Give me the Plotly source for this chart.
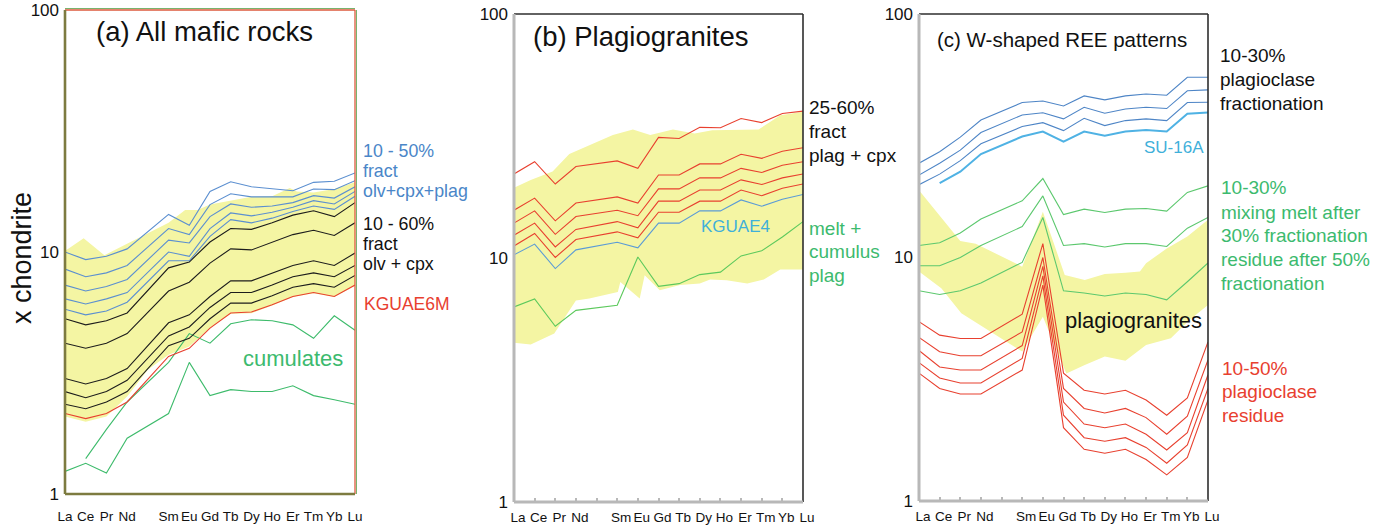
import plotly.graph_objects as go

# ---------------- categories ----------------
ree_axis = ["La", "Ce", "Pr", "Nd", "Pm", "Sm", "Eu", "Gd", "Tb", "Dy", "Ho", "Er", "Tm", "Yb", "Lu"]
tick_text = ["La", "Ce", "Pr", "Nd", "", "Sm", "Eu", "Gd", "Tb", "Dy", "Ho", "Er", "Tm", "Yb", "Lu"]
ree_data = ["La", "Ce", "Pr", "Nd", "Sm", "Eu", "Gd", "Tb", "Dy", "Ho", "Er", "Tm", "Yb", "Lu"]

# ---------------- panel (a): all mafic rocks ----------------
a_blue = [
    [10.0, 9.3, 9.6, 10.3, 14.3, 12.9, 17.8, 19.5, 18.6, 18.2, 17.9, 19.4, 19.6, 21.2],
    [8.5, 7.9, 8.2, 8.8, 12.5, 11.8, 15.7, 17.4, 16.9, 16.9, 16.9, 18.2, 18.1, 19.7],
    [7.3, 6.9, 7.2, 7.7, 11.2, 10.9, 14.0, 15.8, 15.3, 15.5, 16.0, 17.1, 16.7, 18.6],
    [6.4, 6.1, 6.4, 6.8, 10.0, 9.6, 12.5, 14.5, 14.1, 14.6, 15.3, 16.3, 15.8, 17.8],
    [5.8, 5.5, 5.7, 6.2, 9.2, 9.2, 11.6, 13.6, 13.2, 13.8, 14.7, 15.5, 15.0, 17.0],
]
a_black = [
    [5.3, 5.0, 5.2, 5.6, 8.6, 9.1, 11.0, 12.5, 12.4, 13.2, 14.2, 14.8, 14.0, 16.0],
    [4.2, 4.0, 4.2, 4.6, 6.9, 7.5, 9.0, 10.3, 10.2, 11.0, 11.8, 12.3, 11.7, 13.2],
    [3.0, 2.85, 3.0, 3.3, 5.1, 5.5, 6.55, 7.6, 7.6, 8.2, 8.8, 9.2, 8.8, 9.9],
    [2.65, 2.5, 2.65, 2.95, 4.5, 4.9, 5.9, 6.8, 6.8, 7.3, 7.9, 8.2, 7.9, 8.8],
    [2.35, 2.25, 2.4, 2.65, 4.1, 4.4, 5.3, 6.15, 6.15, 6.6, 7.15, 7.4, 7.15, 8.0],
]
a_kguae6m = [2.15, 2.05, 2.15, 2.4, 3.7, 4.0, 4.85, 5.6, 5.65, 6.05, 6.55, 6.8, 6.55, 7.3]
a_cumulates = [
    [None, 1.4, 1.85, 2.4, 3.5, 4.6, 4.2, 5.05, 5.25, 5.2, 5.0, 4.4, 5.45, 4.75],
    [1.24, 1.34, 1.22, 1.7, 2.15, 3.5, 2.55, 2.7, 2.65, 2.65, 2.8, 2.55, 2.45, 2.35],
]
band_a_top_x = [0, 0.9, 1.9, 3, 4, 5, 5.8, 6.4, 7, 8, 9, 10, 10.85, 11.2, 12, 13, 14]
band_a_top_y = [10.1, 11.4, 9.7, 10.8, 12.0, 13.2, 14.9, 14.9, 15.7, 16.3, 16.9, 17.0, 18.4, 17.8, 17.6, 18.2, 19.4]
band_a_bot_x = [0, 1, 2, 3, 4, 5, 6, 7, 8, 9, 10, 11, 12, 13, 14]
band_a_bot_y = [2.09, 1.99, 2.09, 2.53, 3.26, 3.76, 4.07, 4.85, 5.56, 5.59, 6.01, 6.51, 6.76, 6.51, 7.25]

# ---------------- panel (b): plagiogranites ----------------
b_red = [
    [22.1, 24.8, 20.1, 23.7, 25.0, 23.3, 31.2, 30.9, 34.3, 34.2, 37.3, 35.9, 39.1, 40.0],
    [15.7, 17.6, 14.2, 16.8, 17.8, 16.8, 21.9, 21.9, 24.3, 24.3, 26.6, 25.6, 27.4, 28.3],
    [13.9, 15.6, 12.5, 14.8, 15.7, 14.9, 19.2, 19.2, 21.3, 21.3, 23.3, 22.4, 24.0, 24.8],
    [12.4, 13.9, 11.1, 13.1, 14.1, 13.3, 17.1, 17.1, 19.0, 19.0, 20.9, 20.0, 21.3, 22.1],
    [11.2, 12.6, 10.05, 11.9, 12.8, 12.1, 15.4, 15.4, 17.1, 17.1, 19.0, 18.0, 19.3, 20.1],
]
b_kguae4 = [10.3, 11.4, 9.05, 10.8, 11.6, 11.0, 13.9, 13.9, 15.6, 15.6, 17.3, 16.3, 17.4, 18.2]
b_melt_cumulus = [6.3, 6.8, 5.25, 6.1, 6.4, 10.1, 7.65, 7.85, 8.55, 8.75, 10.2, 10.7, 12.2, 14.1]
band_b_top_x = [0, 0.81, 1.87, 2.68, 4.79, 5.76, 6.6, 7.7, 8.75, 9.6, 11.85, 12.9, 14]
band_b_top_y = [19.4, 20.9, 22.6, 26.7, 31.9, 33.6, 31.9, 33.6, 32.4, 33.4, 33.6, 38.5, 39.8]
band_b_bot_x = [0, 0.81, 1.95, 3.0, 3.65, 5.03, 5.15, 6.09, 6.33, 7.06, 8.04, 9.0, 9.5, 10.3, 11.3, 12.1, 12.9, 14]
band_b_bot_y = [4.49, 4.42, 4.90, 6.7, 6.82, 7.26, 7.98, 6.82, 8.50, 7.38, 7.75, 7.86, 8.16, 8.11, 7.86, 8.16, 8.97, 8.97]

# ---------------- panel (c): W-shaped REE patterns ----------------
c_blue = [
    [24.4, 27.2, 31.2, 36.7, 43.3, 43.9, 41.9, 46.1, 44.4, 46.1, 46.9, 46.4, 55.0, 55.0],
    [21.8, 24.4, 27.6, 32.6, 38.5, 39.3, 37.1, 41.4, 39.1, 40.7, 41.4, 40.9, 48.4, 48.8],
    [19.9, 22.0, 25.0, 29.3, 34.5, 35.8, 33.2, 37.3, 34.8, 36.5, 37.1, 36.5, 43.3, 43.4],
]
c_su16a = [None, 20.2, 22.5, 26.6, 31.4, 32.9, 29.9, 32.9, 31.6, 32.9, 33.4, 32.9, 38.9, 39.4]
c_green = [
    [11.2, 11.5, 12.6, 14.4, 17.1, 21.1, 15.0, 15.8, 15.3, 15.8, 15.9, 15.5, 18.5, 19.7],
    [9.25, 9.25, 10.0, 11.2, 13.4, 17.9, 11.2, 11.4, 11.05, 11.4, 11.4, 11.1, 13.2, 14.6],
    [7.3, 7.05, 7.3, 7.85, 9.55, 14.6, 7.3, 7.15, 6.95, 7.15, 7.05, 6.7, 7.95, 9.5],
]
c_red = [
    [5.45, 4.8, 4.65, 4.65, 5.85, 11.4, 3.35, 2.85, 2.75, 2.85, 2.6, 2.25, 2.65, 4.5],
    [4.7, 4.1, 3.95, 3.95, 4.95, 10.0, 2.9, 2.4, 2.3, 2.4, 2.2, 1.88, 2.23, 3.8],
    [4.15, 3.55, 3.45, 3.45, 4.35, 9.2, 2.55, 2.07, 2.0, 2.07, 1.88, 1.62, 1.91, 3.3],
    [3.7, 3.2, 3.05, 3.05, 3.85, 8.4, 2.25, 1.82, 1.76, 1.82, 1.66, 1.43, 1.7, 2.9],
    [3.35, 2.9, 2.75, 2.75, 3.45, 7.7, 2.0, 1.63, 1.57, 1.63, 1.48, 1.28, 1.51, 2.6],
]
band_c_top_x = [0, 2.0, 2.75, 5.0, 6.0, 7.06, 8.03, 9.0, 10.0, 10.7, 11.0, 12.0, 13.0, 14]
band_c_top_y = [18.9, 11.7, 11.4, 9.17, 15.4, 8.48, 8.08, 8.56, 8.66, 8.75, 9.46, 10.9, 12.2, 14.3]
band_c_bot_x = [0, 1.08, 2.05, 5.0, 6.0, 7.14, 8.03, 9.0, 10.0, 11.0, 12.2, 13.1, 14]
band_c_bot_y = [8.75, 7.47, 5.90, 4.11, 5.71, 3.34, 3.62, 3.92, 3.77, 4.37, 4.66, 5.54, 6.38]

y_ticks = [1, 10, 100]

# ---------------- styling ----------------
W, H = 1384, 530
FONT = "'Liberation Sans', Arial, sans-serif"
BAND = "#f4f5a3"
C_BLUE_A = "#5b8fd0"
C_BLACK = "#1c1c1c"
C_RED = "#e8402f"
C_GREEN_A = "#3dbb6b"
C_GREEN_B = "#5cc95c"
C_GREEN_C = "#5cc86e"
C_BLUE_B = "#5b9bd6"
C_BLUE_C = "#4e85c6"
C_CYAN = "#4fb2e4"
T_BLUE = "#4a86c8"
T_CYAN = "#3fb0da"
T_GREEN = "#3cba6e"
T_RED = "#e8402f"

x_data = [ree_axis.index(e) for e in ree_data]

fig = go.Figure()


def add_band(top_x, top_y, bot_x, bot_y, xa, ya):
    fig.add_trace(go.Scatter(
        x=top_x + bot_x[::-1], y=top_y + bot_y[::-1], fill="toself",
        fillcolor=BAND, line=dict(width=0), mode="lines",
        xaxis=xa, yaxis=ya, hoverinfo="skip", showlegend=False))


def add_line(vals, color, xa, ya, width=1.1):
    fig.add_trace(go.Scatter(
        x=x_data, y=vals, mode="lines", line=dict(color=color, width=width),
        xaxis=xa, yaxis=ya, showlegend=False, connectgaps=False))


# panel a
add_band(band_a_top_x, band_a_top_y, band_a_bot_x, band_a_bot_y, "x", "y")
for v in a_cumulates:
    add_line(v, C_GREEN_A, "x", "y")
add_line(a_kguae6m, C_RED, "x", "y")
for v in a_black:
    add_line(v, C_BLACK, "x", "y")
for v in a_blue:
    add_line(v, C_BLUE_A, "x", "y")

# panel b
add_band(band_b_top_x, band_b_top_y, band_b_bot_x, band_b_bot_y, "x2", "y2")
add_line(b_melt_cumulus, C_GREEN_B, "x2", "y2")
add_line(b_kguae4, C_BLUE_B, "x2", "y2")
for v in b_red:
    add_line(v, C_RED, "x2", "y2")

# panel c
add_band(band_c_top_x, band_c_top_y, band_c_bot_x, band_c_bot_y, "x3", "y3")
for v in c_red:
    add_line(v, C_RED, "x3", "y3")
for v in c_green:
    add_line(v, C_GREEN_C, "x3", "y3")
for v in c_blue:
    add_line(v, C_BLUE_C, "x3", "y3")
add_line(c_su16a, C_CYAN, "x3", "y3", width=2)

# ---------------- axes ----------------
def px_x(p):
    return p / W


def px_y(p):
    return 1 - p / H


panels = {
    "a": dict(x=(65, 355), y=(10, 494), ticks="", standoff=12, shift=0),
    "b": dict(x=(514, 803), y=(14, 502), ticks="inside", standoff=5, shift=4),
    "c": dict(x=(919, 1208), y=(14, 501), ticks="inside", standoff=5, shift=4),
}
axis_names = [("xaxis", "yaxis", "x", "y"), ("xaxis2", "yaxis2", "x2", "y2"), ("xaxis3", "yaxis3", "x3", "y3")]
layout_axes = {}
for (key, p), (xn, yn, xr, yr) in zip(panels.items(), axis_names):
    layout_axes[xn] = dict(
        domain=[px_x(p["x"][0]), px_x(p["x"][1])], range=[0, 14], anchor=yr,
        tickmode="array", tickvals=list(range(len(ree_axis))), ticktext=tick_text,
        tickangle=0, automargin=False,
        showgrid=False, zeroline=False, showline=False,
        ticks=p["ticks"], ticklen=4, tickwidth=1.5, tickcolor="#b8b8b8",
        ticklabelstandoff=p["standoff"], ticklabelshift=p["shift"],
        tickfont=dict(family=FONT, size=13.5, color="#111"), fixedrange=True)
    layout_axes[yn] = dict(
        domain=[px_y(p["y"][1]), px_y(p["y"][0])], type="log", range=[0, 2], anchor=xr,
        tickmode="array", tickvals=y_ticks, ticktext=[str(t) for t in y_ticks],
        automargin=False,
        showgrid=False, zeroline=False, showline=False, ticks="",
        ticklabelstandoff=5,
        tickfont=dict(family=FONT, size=17, color="#111"), fixedrange=True)

# ---------------- frames ----------------
shapes = []


def seg(xr, yr, x0, y0, x1, y1, color, width, **kw):
    d = dict(type="line", xref=xr + " domain", yref=yr + " domain",
             x0=x0, y0=y0, x1=x1, y1=y1, line=dict(color=color, width=width), layer="above")
    d.update(kw)
    shapes.append(d)


# panel a: olive left/bottom, red with a thin green outline on top/right
seg("x", "y", 0, 1.5, 1, 1.5, "#79b36e", 1, ysizemode="pixel", yanchor=1)
seg("x", "y", 1.5, 0, 1.5, 1, "#79b36e", 1, xsizemode="pixel", xanchor=1)
seg("x", "y", 0, 1, 1, 1, "#dc5a3c", 1.3)
seg("x", "y", 1, 0, 1, 1, "#dc5a3c", 1.3)
seg("x", "y", 0, 0, 0, 1, "#7d7b40", 2.6)
seg("x", "y", 0, 0, 1, 0, "#7d7b40", 2.6)
for xr, yr in [("x2", "y2"), ("x3", "y3")]:
    seg(xr, yr, 0, 1, 1, 1, "#2e2e2e", 1.6)
    seg(xr, yr, 1, 0, 1, 1, "#2e2e2e", 1.6)
    seg(xr, yr, 0, 0, 0, 1, "#b8b8b8", 3)
    seg(xr, yr, 0, 0, 1, 0, "#b8b8b8", 3)

# ---------------- texts ----------------
annotations = []


def txt(s, x, y, color="#111", size=19, anchor="left", angle=0):
    annotations.append(dict(text=s, x=px_x(x), y=px_y(y), xref="paper", yref="paper",
                            xanchor=anchor, yanchor="middle", showarrow=False, textangle=angle,
                            borderpad=0, font=dict(family=FONT, size=size, color=color)))


txt("x chondrite", 22, 258, size=27, anchor="center", angle=-90)

txt("(a) All mafic rocks", 205, 32, size=27.5, anchor="center")
for s, y in [("10 - 50%", 151), ("fract", 171), ("olv+cpx+plag", 191)]:
    txt(s, 362, y, T_BLUE, size=17.8)
for s, y in [("10 - 60%", 223.5), ("fract", 243.5), ("olv + cpx", 263.5)]:
    txt(s, 362, y, size=17.8)
txt("KGUAE6M", 363, 304, T_RED, size=17.5)
txt("cumulates", 242, 358, T_GREEN, size=22)

txt("(b) Plagiogranites", 641, 37, size=27.5, anchor="center")
for s, y in [("25-60%", 107), ("fract", 131), ("plag + cpx", 155)]:
    txt(s, 808, y)
txt("KGUAE4", 700, 226, T_CYAN, size=17)
for s, y in [("melt +", 228), ("cumulus", 251), ("plag", 275)]:
    txt(s, 808, y, T_GREEN)

txt("(c) W-shaped REE patterns", 1062, 40, size=20.5, anchor="center")
for s, y in [("10-30%", 56), ("plagioclase", 80), ("fractionation", 103)]:
    txt(s, 1219, y)
txt("SU-16A", 1143, 148, T_CYAN, size=17)
for s, y in [("10-30%", 188), ("mixing melt after", 212), ("30% fractionation", 235),
             ("residue after 50%", 259), ("fractionation", 283)]:
    txt(s, 1220, y, T_GREEN)
txt("plagiogranites", 1064, 320, size=22)
for s, y in [("10-50%", 368), ("plagioclase", 391), ("residue", 415)]:
    txt(s, 1221, y, T_RED)

fig.update_layout(
    width=W, height=H, margin=dict(l=0, r=0, t=0, b=0, autoexpand=False),
    paper_bgcolor="white", plot_bgcolor="white", showlegend=False,
    shapes=shapes, annotations=annotations, **layout_axes)

fig.write_html("out.html")
